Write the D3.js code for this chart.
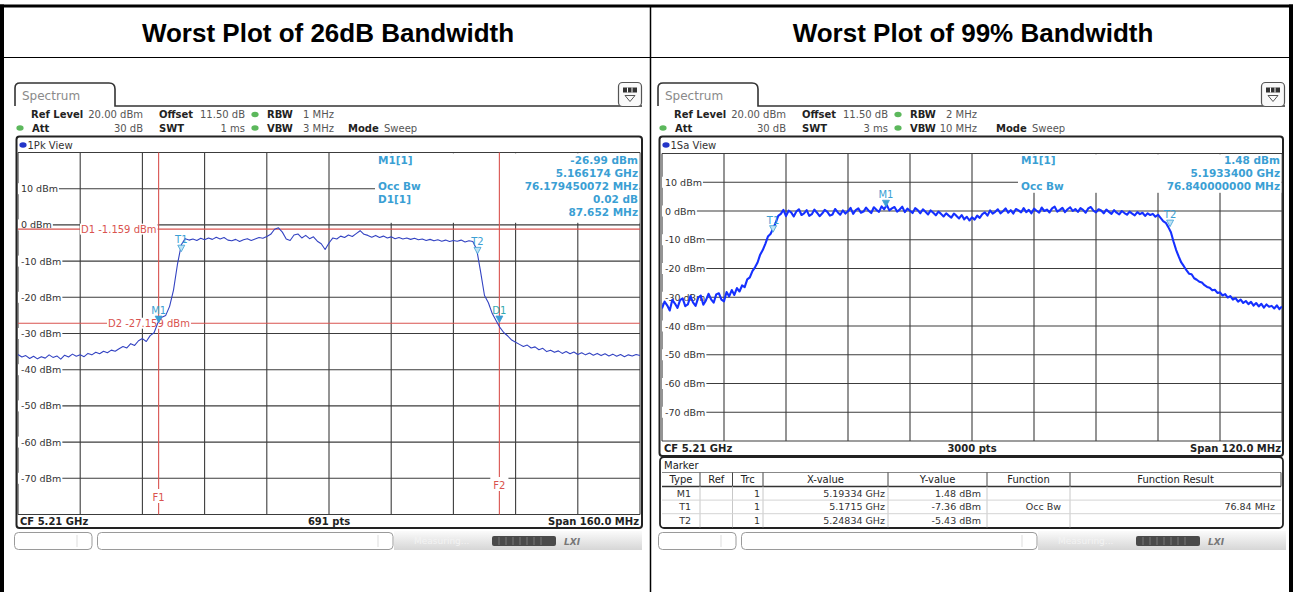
<!DOCTYPE html>
<html><head><meta charset="utf-8">
<script src="https://cdn.jsdelivr.net/npm/d3@7"></script>
<style>
html,body{margin:0;padding:0;background:#fff;}
svg{display:block;}
text{font-family:"DejaVu Sans",sans-serif;}
</style></head><body>
<svg id="c" width="1293" height="592"></svg>
<script>
// ---------------- DATA ----------------
const titles = ["Worst Plot of 26dB Bandwidth", "Worst Plot of 99% Bandwidth"];
const yTickValues = [10, 0, -10, -20, -30, -40, -50, -60, -70];
const yTickUnit = " dBm";

// 26 dB bandwidth plot: CF 5.21 GHz, span 160 MHz, sample every 1 MHz from 5.13 GHz
const trace26StepMHz = 1;
const trace26 = [
-35.8,-36.5,-36.1,-36.9,-36.3,-37.0,-36.4,-36.8,-35.9,-36.6,
-36.2,-37.1,-36.0,-36.5,-35.7,-36.3,-35.9,-36.4,-35.5,-35.9,
-35.2,-35.6,-34.9,-35.3,-34.6,-34.9,-34.2,-33.6,-34.0,-32.8,
-33.3,-32.0,-31.4,-32.2,-30.6,-29.8,-27.0,-25.5,-25.0,-22.5,
-18.0,-11.0,-5.5,-3.8,-4.2,-3.9,-4.3,-3.7,-4.1,-3.6,
-4.0,-3.4,-3.9,-3.5,-4.2,-4.4,-4.0,-4.6,-4.1,-3.8,
-4.3,-3.9,-3.5,-3.7,-3.2,-2.6,-1.2,-0.8,-2.0,-3.9,
-4.3,-2.8,-2.5,-3.6,-2.9,-3.8,-3.3,-4.5,-5.2,-6.8,
-5.0,-3.6,-3.9,-3.1,-3.5,-2.8,-3.2,-2.4,-1.6,-2.6,
-2.9,-3.4,-2.9,-3.5,-3.1,-3.6,-3.3,-3.8,-3.5,-3.9,
-3.6,-4.0,-3.7,-4.1,-3.9,-4.3,-4.0,-4.4,-4.1,-4.5,
-4.2,-4.6,-4.3,-4.5,-4.2,-4.7,-4.4,-4.6,-6.8,-13.0,
-19.5,-21.5,-24.5,-26.5,-28.4,-29.8,-30.7,-31.8,-32.4,-33.0,
-33.6,-33.2,-34.0,-33.7,-34.5,-34.1,-35.0,-34.6,-35.2,-34.8,
-35.5,-35.0,-35.6,-35.1,-35.8,-35.3,-35.9,-35.4,-36.0,-35.5,
-36.1,-35.6,-36.2,-35.7,-36.3,-35.8,-36.4,-35.9,-36.2,-35.8,
-36.1];

// 99% bandwidth plot: CF 5.21 GHz, span 120 MHz, sample every 0.5 MHz from 5.15 GHz
const trace99StepMHz = 0.5;
const trace99 = [
-33.9,-31.5,-32.8,-34.6,-30.9,-32.2,-33.7,-31.0,-30.4,-33.1,
-32.5,-29.6,-31.8,-33.0,-30.2,-29.4,-32.6,-31.1,-28.8,-30.7,
-31.9,-29.0,-28.6,-30.8,-31.4,-28.2,-29.7,-27.5,-29.2,-26.8,
-28.0,-25.9,-26.5,-23.8,-23.1,-20.9,-19.6,-17.9,-15.2,-13.6,
-11.4,-8.9,-8.0,-6.2,-4.1,-1.7,-1.0,0.4,-1.8,0.1,
-0.5,-1.9,-0.2,0.6,-1.4,-0.8,0.3,-1.7,-1.1,0.5,
-0.6,-1.8,-0.9,0.4,-0.3,-1.6,-1.2,0.7,-0.4,-1.3,
0.2,-0.9,-0.1,1.1,-1.0,0.3,0.9,-0.6,-0.2,1.2,
0.1,-0.7,1.3,0.4,-0.3,1.6,0.6,2.1,0.2,0.9,
1.4,-0.2,0.5,1.5,-0.4,0.8,0.1,-0.7,1.0,0.3,
-0.8,0.6,-0.3,-1.2,0.2,-0.6,-1.5,-0.2,-1.0,-1.9,
-0.8,-1.6,-2.3,-0.9,-1.7,-2.6,-1.4,-2.9,-2.0,-3.3,
-2.2,-3.0,-1.6,-2.4,-1.1,-0.5,-1.6,0.2,-0.9,-0.3,
0.6,-0.8,-0.1,0.9,-0.6,0.3,-0.9,0.7,0.2,-0.5,
1.0,-0.4,0.4,-0.8,0.8,0.1,-0.6,1.2,0.0,0.5,
-0.5,0.9,1.5,-0.2,0.4,1.1,-0.4,0.6,1.3,0.0,
0.7,-0.3,1.0,0.4,-0.6,0.9,1.4,0.1,-0.5,0.6,
0.2,-0.8,0.5,-0.3,-1.0,0.3,-0.6,-1.2,0.0,-0.7,
-1.3,-0.2,-0.9,-1.5,-0.4,-1.1,-0.6,-1.7,-0.8,-1.4,
-1.0,-2.0,-1.3,-2.4,-3.5,-4.1,-5.6,-7.4,-10.6,-13.5,
-15.8,-17.9,-19.2,-20.6,-21.8,-22.0,-23.4,-23.9,-24.6,-24.9,
-25.8,-26.4,-26.7,-27.6,-27.4,-28.5,-28.3,-29.4,-28.9,-30.1,
-29.6,-30.8,-30.3,-31.5,-30.8,-32.0,-31.3,-32.4,-31.6,-32.9,
-32.0,-33.2,-32.3,-33.6,-32.5,-33.3,-33.0,-33.9,-32.8,-34.1,
-33.2];

const settings26 = {refLevel:"20.00 dBm", offset:"11.50 dB", rbw:"1 MHz", att:"30 dB", swt:"1 ms", vbw:"3 MHz", mode:"Sweep", view:"1Pk View", cf:"CF 5.21 GHz", pts:"691 pts", span:"Span 160.0 MHz"};
const settings99 = {refLevel:"20.00 dBm", offset:"11.50 dB", rbw:"2 MHz", att:"30 dB", swt:"3 ms", vbw:"10 MHz", mode:"Sweep", view:"1Sa View", cf:"CF 5.21 GHz", pts:"3000 pts", span:"Span 120.0 MHz"};
const spanMHz = [160, 120];

// marker readouts (label, value)
const info26 = [["M1[1]","-26.99 dBm"],["","5.166174 GHz"],["Occ Bw","76.179450072 MHz"],["D1[1]","0.02 dB"],["","87.652 MHz"]];
const info99 = [["M1[1]","1.48 dBm"],["","5.1933400 GHz"],["Occ Bw","76.840000000 MHz"]];

// markers: name, offset from start frequency (MHz), level (dBm)
const markers26 = [{n:"M1",f:36.174,v:-26.99,fill:true},{n:"T1",f:42.0,v:-7.4},{n:"T2",f:118.2,v:-8.0},{n:"D1",f:123.826,v:-26.97,fill:true}];
const markers99 = [{n:"M1",f:43.34,v:1.48,fill:true},{n:"T1",f:21.5,v:-7.36},{n:"T2",f:98.34,v:-5.43}];

// display lines on 26 dB plot
const dLines26 = [{n:"D1", v:-1.159, label:"D1 -1.159 dBm"},{n:"D2", v:-27.159, label:"D2 -27.159 dBm"}];
const fLines26 = [{n:"F1", f:36.174},{n:"F2", f:123.826}];

// marker table of 99% plot
const tableColumns = ["Type","Ref","Trc","X-value","Y-value","Function","Function Result"];
const tableRows = [
  ["M1","","1","5.19334 GHz","1.48 dBm","",""],
  ["T1","","1","5.1715 GHz","-7.36 dBm","Occ Bw","76.84 MHz"],
  ["T2","","1","5.24834 GHz","-5.43 dBm","",""]
];

// ---------------- DRAW ----------------
const W = 1293, H = 592;
const svg = d3.select("#c");
const MK = "#3b9fd4", RED = "#d9534f", GRID = "#3c3c3c";

function txt(g, x, y, s, o = {}) {
  const t = g.append("text").attr("x", x).attr("y", y).text(s)
    .attr("font-size", o.size || 10).attr("fill", o.fill || "#222");
  if (o.bold) t.attr("font-weight", "bold");
  if (o.anchor) t.attr("text-anchor", o.anchor);
  if (o.family) t.style("font-family", o.family);
  return t;
}
function bgText(g, x, y, s, o = {}) {
  const t = txt(g, x, y, s, o);
  const b = t.node().getBBox();
  const pl = o.padL ?? 1, pr = o.padR ?? 1;
  g.insert("rect", () => t.node()).attr("x", b.x - pl).attr("y", b.y - (o.padT ?? 0))
    .attr("width", b.width + pl + pr).attr("height", b.height + (o.padT ?? 0) + (o.padB ?? 0)).attr("fill", "#fff");
  return t;
}

// outer table borders
svg.append("rect").attr("x", 0).attr("y", 4.5).attr("width", W).attr("height", 3).attr("fill", "#000");
svg.append("rect").attr("x", 0).attr("y", 4.5).attr("width", 4).attr("height", H).attr("fill", "#000");
svg.append("rect").attr("x", 1289).attr("y", 4.5).attr("width", 4).attr("height", H).attr("fill", "#000");
svg.append("line").attr("x1", 4).attr("x2", 1289).attr("y1", 57.5).attr("y2", 57.5).attr("stroke", "#000").attr("stroke-width", 1.2);
svg.append("line").attr("x1", 650.5).attr("x2", 650.5).attr("y1", 7).attr("y2", H).attr("stroke", "#000").attr("stroke-width", 1.5);

// titles
const tg = svg.append("g");
const TF = "'Liberation Sans', Arial, sans-serif";
txt(tg, 328, 41.5, titles[0], {size: 26, bold: true, anchor: "middle", family: TF, fill: "#000"});
txt(tg, 973, 41.5, titles[1], {size: 26, bold: true, anchor: "middle", family: TF, fill: "#000"});

const defs = svg.append("defs");
const grad = defs.append("linearGradient").attr("id", "sg").attr("x1", 0).attr("y1", 0).attr("x2", 0).attr("y2", 1);
grad.append("stop").attr("offset", "0%").attr("stop-color", "#fbfbfb");
grad.append("stop").attr("offset", "100%").attr("stop-color", "#d6d6d6");

function dot(g, cx, cy, color) {
  g.append("ellipse").attr("cx", cx).attr("cy", cy).attr("rx", 3.6).attr("ry", 2.8).attr("fill", color || "#5cb85c");
}

function drawPanel(p) {
  const g = svg.append("g");
  const h = p.hx;
  const s = p.settings;
  // tab + header line
  g.append("path").attr("d", `M${h+15},106 V88 Q${h+15},83 ${h+20},83 H${h+109} Q${h+115},83 ${h+115},89 V106 H${h+642}`)
    .attr("fill", "none").attr("stroke", "#333").attr("stroke-width", 1.6);
  txt(g, h + 22, 99.5, "Spectrum", {size: 12, fill: "#8a8a8a"});
  // icon
  g.append("rect").attr("x", h + 618.5).attr("y", 82.5).attr("width", 23).attr("height", 24).attr("rx", 4)
    .attr("fill", "#fafafa").attr("stroke", "#555").attr("stroke-width", 1.2);
  g.append("rect").attr("x", h + 623).attr("y", 87.5).attr("width", 14).attr("height", 5).attr("fill", "#333");
  [627.5, 632].forEach(xx => g.append("line").attr("x1", h + xx).attr("x2", h + xx).attr("y1", 87.5).attr("y2", 92.5).attr("stroke", "#fff"));
  g.append("path").attr("d", `M${h+625},95.5 H${h+635} L${h+630},101.5 Z`).attr("fill", "none").attr("stroke", "#555");

  // settings rows
  const r1 = 118, r2 = 131.5;
  txt(g, h + 31, r1, "Ref Level", {bold: true});
  txt(g, h + 143, r1, s.refLevel, {anchor: "end", fill: "#555"});
  txt(g, h + 159, r1, "Offset", {bold: true});
  txt(g, h + 245, r1, s.offset, {anchor: "end", fill: "#555"});
  dot(g, h + 255, r1 - 3.5);
  txt(g, h + 267, r1, "RBW", {bold: true});
  txt(g, h + 334, r1, s.rbw, {anchor: "end", fill: "#555"});
  dot(g, h + 20, r2 - 3.5);
  txt(g, h + 32, r2, "Att", {bold: true});
  txt(g, h + 143, r2, s.att, {anchor: "end", fill: "#555"});
  txt(g, h + 159, r2, "SWT", {bold: true});
  txt(g, h + 245, r2, s.swt, {anchor: "end", fill: "#555"});
  dot(g, h + 255, r2 - 3.5);
  txt(g, h + 267, r2, "VBW", {bold: true});
  txt(g, h + 334, r2, s.vbw, {anchor: "end", fill: "#555"});
  txt(g, p.modeX, r2, "Mode", {bold: true});
  txt(g, p.modeX + 36, r2, s.mode, {fill: "#555"});

  // frame
  g.append("rect").attr("x", p.fx0).attr("y", 136.5).attr("width", p.fx1 - p.fx0).attr("height", p.fy1 - 136.5)
    .attr("rx", 3).attr("fill", "#fff").attr("stroke", "#222").attr("stroke-width", 2);
  dot(g, h + 23, 145, "#2435c8");
  txt(g, h + 27.5, 148.5, s.view, {fill: "#333"});

  const x = d3.scaleLinear().domain([0, p.span]).range([p.gx0, p.gx1]);
  const y = d3.scaleLinear().domain([-80, 20]).range([p.gy1, p.gy0]);

  // grid
  const gg = g.append("g");
  d3.range(0, 11).map(i => i * p.span / 10).forEach(f => {
    gg.append("line").attr("x1", x(f)).attr("x2", x(f)).attr("y1", p.gy0).attr("y2", p.gy1).attr("stroke", GRID).attr("stroke-width", 1.1);
  });
  d3.range(-80, 21, 10).forEach(v => {
    gg.append("line").attr("x1", p.gx0).attr("x2", p.gx1).attr("y1", y(v)).attr("y2", y(v)).attr("stroke", GRID).attr("stroke-width", 1.1);
  });
  // y tick labels
  yTickValues.forEach(v => {
    bgText(g, p.gx0 + 3, y(v) + 3.5, v + yTickUnit, {size: 9.5, fill: "#333", padL: 3, padR: 1});
  });
  // bottom row
  txt(g, p.gx0 + 2, p.gy1 + 10.5, s.cf, {bold: true});
  txt(g, (p.gx0 + p.gx1) / 2, p.gy1 + 10.5, s.pts, {bold: true, anchor: "middle"});
  txt(g, p.gx1 - 1, p.gy1 + 10.5, s.span, {bold: true, anchor: "end"});

  // info box
  g.append("rect").attr("x", p.ib[0]).attr("y", p.gy0 + 0.8).attr("width", p.gx1 - p.ib[0] - 0.6).attr("height", p.ib[1] - p.gy0).attr("fill", "#fff");

  // red display lines
  if (p.dLines) {
    p.fLines.forEach(d => g.append("line").attr("x1", x(d.f)).attr("x2", x(d.f)).attr("y1", p.gy0).attr("y2", p.gy1).attr("stroke", RED).attr("stroke-width", 1.1));
    p.dLines.forEach(d => g.append("line").attr("x1", p.gx0).attr("x2", p.gx1).attr("y1", y(d.v)).attr("y2", y(d.v)).attr("stroke", RED).attr("stroke-width", 1.1));
    bgText(g, x(0) + 63, y(p.dLines[0].v) + 3.5, p.dLines[0].label, {size: 10, fill: RED, padL: 1, padR: 1});
    bgText(g, x(0) + 90, y(p.dLines[1].v) + 3.5, p.dLines[1].label, {size: 10, fill: RED, padL: 1, padR: 1});
    bgText(g, x(p.fLines[0].f), 501, p.fLines[0].n, {size: 10, fill: RED, anchor: "middle", padL: 1, padR: 1, padT: 3});
    bgText(g, x(p.fLines[1].f), 489, p.fLines[1].n, {size: 10, fill: RED, anchor: "middle", padL: 3, padR: 3, padT: 3});
  }

  // trace
  const clipId = "clip" + p.id;
  defs.append("clipPath").attr("id", clipId).append("rect").attr("x", p.gx0).attr("y", p.gy0).attr("width", p.gx1 - p.gx0).attr("height", p.gy1 - p.gy0);
  const line = d3.line().x((d, i) => x(i * p.step)).y(d => y(d));
  g.append("path").datum(p.trace).attr("d", line).attr("fill", "none")
    .attr("stroke", p.traceColor).attr("stroke-width", p.traceWidth).attr("stroke-linejoin", "round")
    .attr("clip-path", `url(#${clipId})`);

  // markers
  p.markers.forEach(m => {
    const cx = x(m.f), cy = y(m.v);
    g.append("path").attr("d", `M${cx - 3.5},${cy - 6.5} H${cx + 3.5} L${cx},${cy} Z`)
      .attr("fill", m.fill ? MK : "#bfe3f5").attr("stroke", MK).attr("stroke-width", 0.8);
    txt(g, cx + (m.dx || 0), cy - 8.5, m.n, {size: 10, fill: m.n === "D1" ? "#33aab0" : MK, anchor: "middle"});
  });

  // marker readout text
  p.info.forEach((r, i) => {
    const yy = 163.5 + i * 13;
    if (r[0]) txt(g, p.ib[0] + 3, yy, r[0], {size: 10.5, bold: true, fill: MK});
    txt(g, p.gx1 - 2, yy, r[1], {size: 10.5, bold: true, fill: MK, anchor: "end"});
  });

  // status bar
  const sx = p.sx;
  g.append("rect").attr("x", sx + 14.5).attr("y", 532.5).attr("width", 77.5).attr("height", 17).attr("rx", 4).attr("fill", "#fff").attr("stroke", "#9a9a9a");
  g.append("line").attr("x1", sx + 77).attr("x2", sx + 77).attr("y1", 535).attr("y2", 547).attr("stroke", "#ddd");
  g.append("rect").attr("x", sx + 97.5).attr("y", 532.5).attr("width", 295.5).attr("height", 17).attr("rx", 4).attr("fill", "#fff").attr("stroke", "#9a9a9a");
  g.append("line").attr("x1", sx + 378).attr("x2", sx + 378).attr("y1", 535).attr("y2", 547).attr("stroke", "#ddd");
  g.append("rect").attr("x", sx + 394).attr("y", 531).attr("width", 248).attr("height", 19).attr("fill", "url(#sg)");
  txt(g, sx + 414, 544, "Measuring...", {size: 9, fill: "#f3f3f3"});
  g.append("rect").attr("x", sx + 492).attr("y", 536).attr("width", 64).attr("height", 10).attr("rx", 2).attr("fill", "#4a4a4a");
  d3.range(1, 8).forEach(k => g.append("line").attr("x1", sx + 492 + k * 7).attr("x2", sx + 492 + k * 7).attr("y1", 537).attr("y2", 545).attr("stroke", "#777"));
  txt(g, sx + 564, 545, "LXI", {size: 9, bold: true, fill: "#777"}).attr("font-style", "italic");
}

drawPanel({id: "a", hx: 0, sx: 0, modeX: 348, settings: settings26, span: spanMHz[0],
  fx0: 16.5, fx1: 642, fy1: 528, gx0: 18, gx1: 640, gy0: 152.5, gy1: 514.5, ib: [375, 222],
  trace: trace26, step: trace26StepMHz, traceColor: "#3343c2", traceWidth: 1.1,
  markers: markers26, info: info26, dLines: dLines26, fLines: fLines26});

drawPanel({id: "b", hx: 643, sx: 644, modeX: 996, settings: settings99, span: spanMHz[1],
  fx0: 659.5, fx1: 1283, fy1: 456, gx0: 662, gx1: 1282, gy0: 153.5, gy1: 441, ib: [1018, 192],
  trace: trace99, step: trace99StepMHz, traceColor: "#1530ff", traceWidth: 2.1,
  markers: markers99, info: info99});

// marker table (99% plot)
const mt = svg.append("g");
mt.append("rect").attr("x", 660).attr("y", 457).attr("width", 623).attr("height", 71).attr("rx", 4).attr("fill", "#fff").attr("stroke", "#222").attr("stroke-width", 1.8);
txt(mt, 664, 468.5, "Marker", {size: 10, fill: "#222"});
const colEdges = [662, 700, 732.5, 763, 888, 987, 1070, 1281];
const colPad = [9, 3, 3, 3, 6, 9, 6];
const hTop = 472.5, hBot = 486.5, rowH = 13.6;
mt.append("line").attr("x1", 662).attr("x2", 1281).attr("y1", hTop).attr("y2", hTop).attr("stroke", "#888");
mt.append("line").attr("x1", 662).attr("x2", 1281).attr("y1", hBot).attr("y2", hBot).attr("stroke", "#333").attr("stroke-width", 1.3);
colEdges.slice(1, -1).forEach(e => {
  mt.append("line").attr("x1", e).attr("x2", e).attr("y1", hTop).attr("y2", hBot).attr("stroke", "#444");
  mt.append("line").attr("x1", e).attr("x2", e).attr("y1", hBot).attr("y2", hBot + rowH * 3).attr("stroke", "#c8c8c8");
});
mt.append("line").attr("x1", 1281).attr("x2", 1281).attr("y1", hTop).attr("y2", hBot).attr("stroke", "#444");
tableColumns.forEach((c, i) => txt(mt, (colEdges[i] + colEdges[i + 1]) / 2, hBot - 3.5, c, {size: 10, anchor: "middle", fill: "#222"}));
tableRows.forEach((r, j) => {
  const yy = hBot + rowH * (j + 1);
  if (j < 2) mt.append("line").attr("x1", 662).attr("x2", 1281).attr("y1", yy).attr("y2", yy).attr("stroke", "#d4d4d4");
  r.forEach((c, i) => { if (c) txt(mt, colEdges[i + 1] - colPad[i], yy - 3.3, c, {size: 9.5, anchor: "end", fill: "#333"}); });
});
</script>
</body></html>
